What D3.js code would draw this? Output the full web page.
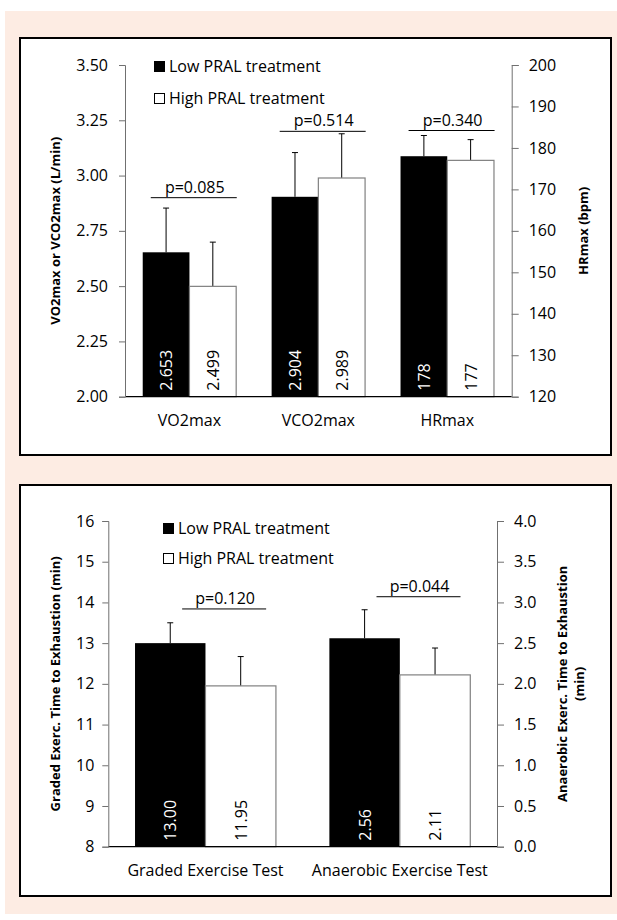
<!DOCTYPE html>
<html>
<head>
<meta charset="utf-8">
<script src="https://cdn.jsdelivr.net/npm/d3@7"></script>
<style>
  body { margin: 0; background: #ffffff; }
  svg text { font-family: "Open Sans", "Noto Sans", sans-serif; fill: #000; }
</style>
</head>
<body>
<svg id="chart" width="617" height="920"></svg>
<script>
// ---- data ----
var topCategories = ["VO2max", "VCO2max", "HRmax"];
var topLow = [2.653, 2.904, 178];
var topHigh = [2.499, 2.989, 177];
var topLowSD = [0.20, 0.20, 5];
var topHighSD = [0.20, 0.20, 5];
var topAxisSide = ["left", "left", "right"];
var topFormat = [".3f", ".3f", "d"];
var topP = ["p=0.085", "p=0.514", "p=0.340"];
var topPLevel = [2.90, 3.20, 184.2];
var topLeftTicks = [2.00, 2.25, 2.50, 2.75, 3.00, 3.25, 3.50];
var topRightTicks = [120, 130, 140, 150, 160, 170, 180, 190, 200];

var botCategories = ["Graded Exercise Test", "Anaerobic Exercise Test"];
var botLow = [13.00, 2.56];
var botHigh = [11.95, 2.11];
var botLowSD = [0.50, 0.35];
var botHighSD = [0.72, 0.33];
var botAxisSide = ["left", "right"];
var botFormat = [".2f", ".2f"];
var botP = ["p=0.120", "p=0.044"];
var botPLevel = [13.84, 3.07];
var botLeftTicks = [8, 9, 10, 11, 12, 13, 14, 15, 16];
var botRightTicks = [0.0, 0.5, 1.0, 1.5, 2.0, 2.5, 3.0, 3.5, 4.0];

var seriesNames = ["Low PRAL treatment", "High PRAL treatment"];

var svg = d3.select("#chart");

// peach background
svg.append("rect")
    .attr("x", 5).attr("y", 11)
    .attr("width", 612).attr("height", 903)
    .attr("fill", "#fdece3");

function drawPanel(cfg) {
    // white panel with black frame
    svg.append("rect")
        .attr("x", cfg.box[0]).attr("y", cfg.box[1])
        .attr("width", cfg.box[2]).attr("height", cfg.box[3])
        .attr("fill", "#fff")
        .attr("stroke", "#000")
        .attr("stroke-width", 2);

    var g = svg.append("g");

    var x = d3.scaleBand()
        .domain(cfg.categories)
        .range([cfg.x0, cfg.x1])
        .paddingInner(0.275)
        .paddingOuter(0.1375);

    var xs = d3.scaleBand()
        .domain([0, 1])
        .range([0, x.bandwidth()]);

    var yL = d3.scaleLinear().domain(cfg.leftDomain).range([cfg.yB, cfg.yT]);
    var yR = d3.scaleLinear().domain(cfg.rightDomain).range([cfg.yB, cfg.yT]);
    var yOf = function(i) { return cfg.side[i] === "left" ? yL : yR; };

    // bars
    cfg.categories.forEach(function(c, i) {
        var y = yOf(i);
        var vals = [cfg.low[i], cfg.high[i]];
        var sds = [cfg.lowSD[i], cfg.highSD[i]];
        vals.forEach(function(v, s) {
            var bx = x(c) + xs(s);
            var bw = xs.bandwidth();
            // error bar (upward only)
            var cx = bx + bw / 2;
            g.append("line")
                .attr("x1", cx).attr("x2", cx)
                .attr("y1", y(v)).attr("y2", y(v + sds[s]))
                .attr("stroke", "#000").attr("stroke-width", 1);
            g.append("line")
                .attr("x1", cx - 3).attr("x2", cx + 3)
                .attr("y1", y(v + sds[s])).attr("y2", y(v + sds[s]))
                .attr("stroke", "#000").attr("stroke-width", 1);

            g.append("rect")
                .attr("x", bx)
                .attr("y", y(v))
                .attr("width", bw)
                .attr("height", cfg.yB - y(v))
                .attr("fill", s === 0 ? "#000" : "#fff")
                .attr("stroke", s === 0 ? "none" : "#808080")
                .attr("stroke-width", 1.2);

            // value label, rotated at bar bottom
            g.append("text")
                .attr("transform", "translate(" + (cx + 6) + "," + (cfg.yB - 6) + ") rotate(-90)")
                .attr("text-anchor", "start")
                .style("font-size", "16px")
                .style("fill", s === 0 ? "#fff" : "#000")
                .text(d3.format(cfg.fmt[i])(v));
        });

        // p-value line and label
        var py = y(cfg.pLevel[i]);
        var lx1 = x(c) - x.step() * x.paddingInner() / 2 + x.step() * cfg.pStart;
        var lx2 = lx1 + cfg.pWidth;
        g.append("line")
            .attr("x1", lx1).attr("x2", lx2)
            .attr("y1", py).attr("y2", py)
            .attr("stroke", "#000").attr("stroke-width", 1);
        g.append("text")
            .attr("x", (lx1 + lx2) / 2 + 1)
            .attr("y", py - 5)
            .attr("text-anchor", "middle")
            .style("font-size", "16px")
            .text(cfg.p[i]);

        // category label
        g.append("text")
            .attr("x", x(c) + x.bandwidth() / 2)
            .attr("y", cfg.yB + 29)
            .attr("text-anchor", "middle")
            .style("font-size", "16px")
            .text(c);
    });

    // baseline
    g.append("line")
        .attr("x1", cfg.x0).attr("x2", cfg.x1)
        .attr("y1", cfg.yB).attr("y2", cfg.yB)
        .attr("stroke", "#000").attr("stroke-width", 1.2);

    // left axis
    var leftAxis = d3.axisLeft(yL)
        .tickValues(cfg.leftTicks)
        .tickFormat(d3.format(cfg.leftFmt))
        .tickSize(6).tickPadding(cfg.leftPad);
    var la = g.append("g")
        .attr("transform", "translate(" + cfg.x0 + ",0)")
        .call(leftAxis);
    la.select(".domain").attr("stroke", "#707070");
    la.selectAll(".tick line").attr("stroke", "#707070");
    la.selectAll("text").style("font-size", "16px").attr("fill", "#000")
        .style("font-family", '"Open Sans", sans-serif');

    // right axis
    var rightAxis = d3.axisRight(yR)
        .tickValues(cfg.rightTicks)
        .tickFormat(d3.format(cfg.rightFmt))
        .tickSize(7).tickPadding(10);
    var ra = g.append("g")
        .attr("transform", "translate(" + cfg.x1 + ",0)")
        .call(rightAxis);
    ra.select(".domain").attr("stroke", "#707070");
    ra.selectAll(".tick line").attr("stroke", "#707070");
    ra.selectAll("text").style("font-size", "16px").attr("fill", "#000")
        .style("font-family", '"Open Sans", sans-serif');

    // axis titles
    var midY = (cfg.yT + cfg.yB) / 2;
    g.append("text")
        .attr("transform", "translate(" + cfg.leftTitleX + "," + midY + ") rotate(-90)")
        .attr("text-anchor", "middle")
        .style("font-size", "13px")
        .style("font-weight", "bold")
        .text(cfg.leftTitle);

    var rt = g.append("text")
        .attr("transform", "translate(" + cfg.rightTitleX + "," + midY + ") rotate(-90)")
        .attr("text-anchor", "middle")
        .style("font-size", "13px")
        .style("font-weight", "bold");
    cfg.rightTitle.forEach(function(line, k) {
        rt.append("tspan")
            .attr("x", 0)
            .attr("dy", k === 0 ? 0 : 17)
            .text(line);
    });

    // legend
    seriesNames.forEach(function(name, s) {
        var ly = cfg.legendY[s];
        g.append("rect")
            .attr("x", cfg.legendX + (s === 0 ? 0 : 0.5))
            .attr("y", ly - 5 + (s === 0 ? 0 : 0.5))
            .attr("width", s === 0 ? 11 : 10)
            .attr("height", s === 0 ? 11 : 10)
            .attr("fill", s === 0 ? "#000" : "#fff")
            .attr("stroke", s === 0 ? "none" : "#000")
            .attr("stroke-width", 1);
        g.append("text")
            .attr("x", cfg.legendX + 15)
            .attr("y", ly + 6)
            .style("font-size", "16px")
            .text(name);
    });
}

drawPanel({
    box: [20, 38, 591, 417],
    categories: topCategories,
    low: topLow, high: topHigh, lowSD: topLowSD, highSD: topHighSD,
    side: topAxisSide, fmt: topFormat, p: topP, pLevel: topPLevel,
    pStart: 0.2, pWidth: 86,
    x0: 125, x1: 511.7, yT: 65, yB: 396.7,
    leftDomain: [2.0, 3.5], rightDomain: [120, 200],
    leftTicks: topLeftTicks, rightTicks: topRightTicks,
    leftFmt: ".2f", rightFmt: "d", leftPad: 11,
    leftTitle: "VO2max or VCO2max (L/min)", leftTitleX: 60,
    rightTitle: ["HRmax (bpm)"], rightTitleX: 588,
    legendX: 154, legendY: [66, 98]
});

drawPanel({
    box: [20, 485, 591, 411],
    categories: botCategories,
    low: botLow, high: botHigh, lowSD: botLowSD, highSD: botHighSD,
    side: botAxisSide, fmt: botFormat, p: botP, pLevel: botPLevel,
    pStart: 0.38, pWidth: 84,
    x0: 108.3, x1: 497, yT: 521, yB: 846.7,
    leftDomain: [8, 16], rightDomain: [0, 4],
    leftTicks: botLeftTicks, rightTicks: botRightTicks,
    leftFmt: "d", rightFmt: ".1f", leftPad: 8,
    leftTitle: "Graded Exerc. Time to Exhaustion (min)", leftTitleX: 60,
    rightTitle: ["Anaerobic Exerc. Time to Exhaustion", "(min)"], rightTitleX: 567,
    legendX: 163, legendY: [528, 558]
});
</script>
</body>
</html>
